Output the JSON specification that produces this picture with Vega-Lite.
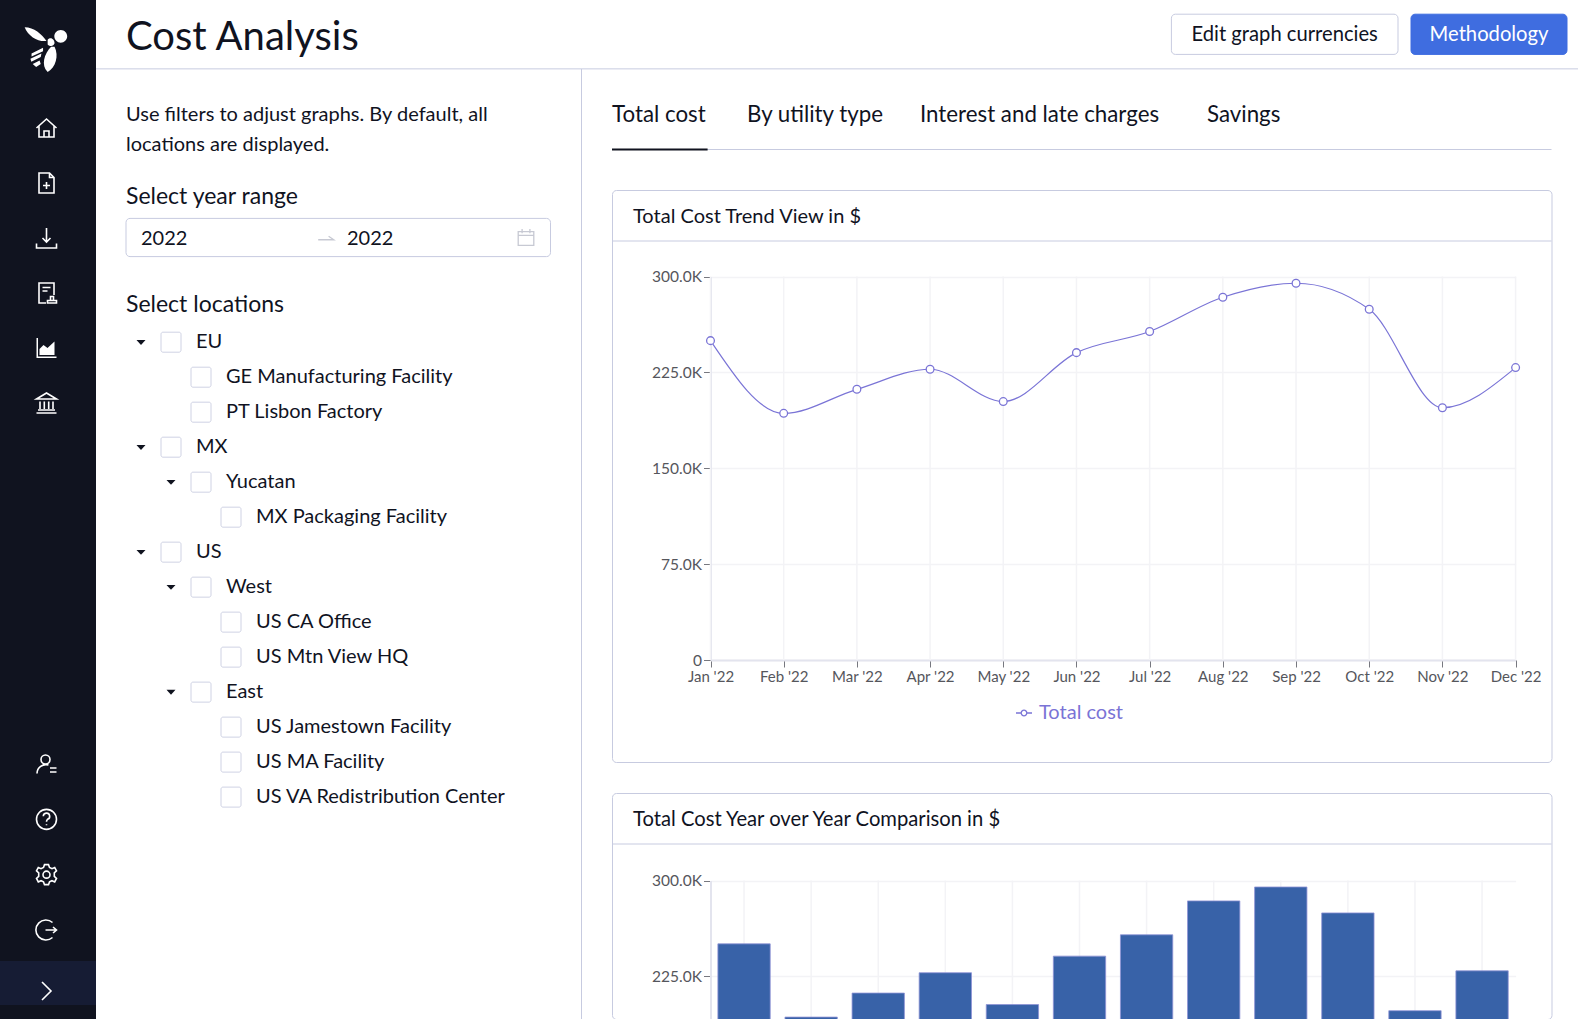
{
  "$schema": "https://vega.github.io/schema/vega-lite/v6.json",
  "padding": 0,
  "background": "white",
  "config": {
    "view": {"stroke": null},
    "font": "Lato",
    "text": {"font": "Lato", "color": "#10131f", "baseline": "middle", "align": "left"},
    "axis": {
      "labelFont": "Lato",
      "labelFontSize": 15,
      "labelColor": "#55565c",
      "tickColor": "#77787f",
      "tickSize": 7,
      "title": null,
      "gridColor": "#f3f3f6",
      "gridWidth": 1.5,
      "domainColor": "#e3e4ee",
      "domainWidth": 2
    }
  },
  "spacing": 0,
  "bounds": "flush",
  "resolve": {"scale": {"shape": "independent", "color": "independent", "fill": "independent", "stroke": "independent", "size": "independent"}},
  "hconcat": [
    {
      "width": 96,
      "height": 1019,
      "view": {"fill": "#10131f"},
      "layer": [
        {
          "data": {"values": [{"from": 10.5, "to": 11.5}]},
          "mark": {"type": "rect", "color": "#161c34"},
          "encoding": {
            "y": {"field": "from", "type": "quantitative", "axis": null, "scale": {"domain": [0, 1, 6, 7, 10, 10.5, 11, 11.5], "range": [49, 128, 403, 764, 930, 961, 991, 1019]}},
            "y2": {"field": "to"}
          }
        },
        {
          "data": {"values": [
            {"icon": "home", "order": 1},
            {"icon": "new", "order": 2},
            {"icon": "download", "order": 3},
            {"icon": "report", "order": 4},
            {"icon": "bank", "order": 6},
            {"icon": "user", "order": 7},
            {"icon": "help", "order": 8},
            {"icon": "gear", "order": 9},
            {"icon": "logout", "order": 10},
            {"icon": "expand", "order": 11}
          ]},
          "mark": {"type": "point", "filled": false, "stroke": "white", "strokeWidth": 1.6, "size": 400, "opacity": 1},
          "encoding": {
            "x": {"datum": 0, "axis": null, "scale": {"domain": [-1, 1], "range": [0, 93]}},
            "y": {"field": "order", "type": "quantitative", "axis": null},
            "shape": {
              "field": "icon",
              "legend": null,
              "scale": {
                "domain": ["home", "new", "download", "report", "bank", "user", "help", "gear", "logout", "expand"],
                "range": [
                  "M-1 0 L0 -0.9 L1 0 M-0.75 -0.2 V0.9 H0.75 V-0.2 M-0.25 0.9 V0.3 H0.25 V0.9",
                  "M-0.75 -1 H0.3 L0.75 -0.55 V1 H-0.75 Z M0.3 -1 V-0.55 H0.75 M-0.35 0.25 H0.35 M0 -0.1 V0.6",
                  "M0 -1 V0.4 M-0.4 0 L0 0.4 L0.4 0 M-1 0.55 V1 H1 V0.55",
                  "M0.75 0.2 V-1 H-0.75 V1 H-0.05 M-0.4 -0.55 H0.4 M-0.4 -0.2 H0.1 M0.1 0.75 H1 V1 H0.1 Z M0.4 0.75 V0.35 H0.7 V0.75",
                  "M-1 -0.4 L0 -1 L1 -0.4 Z M-0.65 -0.15 V0.6 M-0.22 -0.15 V0.6 M0.22 -0.15 V0.6 M0.65 -0.15 V0.6 M-0.85 0.7 H0.85 M-1 1 H1",
                  "M0.35 -0.45 A0.45 0.45 0 1 1 -0.55 -0.45 A0.45 0.45 0 1 1 0.35 -0.45 M-0.95 0.95 A0.9 0.9 0 0 1 0.2 0.1 M0.35 0.4 H1 M0.35 0.8 H1",
                  "M1 0 A1 1 0 1 1 -1 0 A1 1 0 1 1 1 0 M-0.32 -0.3 A0.32 0.32 0 1 1 0.1 0 Q0 0.1 0 0.25 M0 0.5 V0.6",
                  "M-0.2 -1 L0.2 -1 L0.3 -0.72 L0.55 -0.6 L0.82 -0.72 L1 -0.38 L0.78 -0.18 L0.78 0.18 L1 0.38 L0.82 0.72 L0.55 0.6 L0.3 0.72 L0.2 1 L-0.2 1 L-0.3 0.72 L-0.55 0.6 L-0.82 0.72 L-1 0.38 L-0.78 0.18 L-0.78 -0.18 L-1 -0.38 L-0.82 -0.72 L-0.55 -0.6 L-0.3 -0.72 Z M0.35 0 A0.35 0.35 0 1 1 -0.35 0 A0.35 0.35 0 1 1 0.35 0",
                  "M0.6 -0.75 A1 1 0 1 0 0.6 0.75 M-0.1 0 H1 M0.65 -0.3 L1 0 L0.65 0.3",
                  "M-0.45 -0.9 L0.45 0 L-0.45 0.9"
                ]
              }
            }
          }
        },
        {
          "data": {"values": [{"icon": "logo", "order": 0}]},
          "mark": {
            "type": "point",
            "filled": true,
            "color": "white",
            "opacity": 1,
            "size": 2116,
            "shape": "M-0.95 -0.95 C-0.55 -0.95 -0.2 -0.65 0 -0.35 C-0.35 -0.3 -0.8 -0.55 -0.95 -0.95 Z M0.9 -0.55 A0.28 0.28 0 1 1 0.34 -0.55 A0.28 0.28 0 1 1 0.9 -0.55 Z M0.05 -0.4 C0.2 -0.55 0.35 -0.4 0.35 -0.25 C0.3 -0.1 0.15 -0.1 0.05 -0.2 Z M0.35 -0.1 C0.55 0.3 0.4 0.8 0.05 1 C-0.25 0.7 -0.1 0.2 0.2 -0.1 Z M-0.65 0.2 L-0.15 -0.05 L-0.15 0.1 L-0.65 0.33 Z M-0.7 0.42 L-0.22 0.2 L-0.25 0.35 L-0.66 0.55 Z M-0.6 0.65 L-0.3 0.5 L-0.25 0.65 L-0.45 0.78 Z"
          },
          "encoding": {
            "x": {"datum": 0, "axis": null, "scale": {"domain": [-1, 1], "range": [0, 93]}},
            "y": {"field": "order", "type": "quantitative", "axis": null}
          }
        },
        {
          "data": {"values": [{"icon": "charts", "order": 5}]},
          "mark": {
            "type": "point",
            "filled": true,
            "color": "white",
            "opacity": 1,
            "size": 400,
            "shape": "M-1 -1 H-0.85 V0.85 H1 V1 H-1 Z M-0.7 0.7 V0.1 L-0.3 -0.3 L0.1 0 L0.8 -0.65 V0.7 Z"
          },
          "encoding": {
            "x": {"datum": 0, "axis": null, "scale": {"domain": [-1, 1], "range": [0, 93]}},
            "y": {"field": "order", "type": "quantitative", "axis": null}
          }
        }
      ]
    },
    {
      "spacing": 0,
      "bounds": "flush",
      "resolve": {"scale": {"shape": "independent", "color": "independent", "fill": "independent", "stroke": "independent", "size": "independent"}},
      "vconcat": [
        {
          "width": 1482,
          "height": 69,
          "resolve": {"scale": {"x": "independent"}},
          "layer": [
            {
              "data": {"values": [{"title": "Cost Analysis"}]},
              "mark": {"type": "text", "fontSize": 40, "dy": 4},
              "encoding": {
                "x": {"datum": 0, "axis": null, "scale": {"domain": [0, 1], "range": [30, 31]}},
                "y": {"datum": 0.5, "axis": null, "scale": {"domain": [0, 1], "range": [14.2, 54.4]}},
                "text": {"field": "title"}
              }
            },
            {
              "data": {"values": [{"line": 1.36}]},
              "mark": {"type": "rule", "color": "#c7cbe0", "strokeWidth": 1},
              "encoding": {"y": {"field": "line", "type": "quantitative", "axis": null}}
            },
            {
              "data": {"values": [
                {"label": "Edit graph currencies", "start": 0, "end": 1, "mid": 0.5, "top": 0, "bottom": 1},
                {"label": "Methodology", "start": 2, "end": 3, "mid": 2.5, "top": 0, "bottom": 1}
              ]},
              "encoding": {
                "x": {"field": "start", "type": "quantitative", "axis": null, "scale": {"domain": [0, 1, 2, 3], "range": [1075.4, 1302, 1315, 1471]}}
              },
              "layer": [
                {
                  "mark": {"type": "rect", "cornerRadius": 4, "strokeWidth": 1},
                  "encoding": {
                    "x2": {"field": "end"},
                    "y": {"field": "top", "type": "quantitative", "axis": null},
                    "y2": {"field": "bottom"},
                    "fill": {"field": "label", "legend": null, "scale": {"domain": ["Edit graph currencies", "Methodology"], "range": ["#ffffff", "#3f6de0"]}},
                    "stroke": {"field": "label", "legend": null, "scale": {"domain": ["Edit graph currencies", "Methodology"], "range": ["#c7cbe0", "#3f6de0"]}}
                  }
                },
                {
                  "mark": {"type": "text", "align": "center", "fontSize": 20.2, "dy": 1},
                  "encoding": {
                    "x": {"field": "mid", "type": "quantitative", "axis": null},
                    "y": {"datum": 0.5, "axis": null},
                    "text": {"field": "label"},
                    "color": {"field": "label", "legend": null, "scale": {"domain": ["Edit graph currencies", "Methodology"], "range": ["#10131f", "#ffffff"]}}
                  }
                }
              ]
            }
          ]
        },
        {
          "spacing": 30,
          "bounds": "flush",
          "resolve": {"scale": {"shape": "independent", "color": "independent", "fill": "independent", "stroke": "independent", "size": "independent"}},
          "hconcat": [
            {
              "width": 485.5,
              "height": 950,
              "resolve": {"scale": {"x": "independent"}},
              "encoding": {
                "y": {"field": "line", "type": "quantitative", "axis": null, "scale": {"domain": [0, 1, 2, 2.6, 3, 3.4, 4, 5, 18], "range": [45.7, 76, 127.6, 149.4, 168.6, 187.6, 236, 273.2, 728.1]}}
              },
              "layer": [
                {
                  "data": {"values": [{"edge": 1}]},
                  "mark": {"type": "rule", "color": "#c7cbe0", "strokeWidth": 1},
                  "encoding": {
                    "x": {"field": "edge", "type": "quantitative", "axis": null, "scale": {"domain": [0, 1], "range": [0, 485.5]}},
                    "y": null
                  }
                },
                {
                  "data": {"values": [{"line": 2.6, "lineEnd": 3.4, "from": 0, "to": 1}]},
                  "mark": {"type": "rect", "fill": "white", "stroke": "#c7cbe0", "strokeWidth": 1, "cornerRadius": 4},
                  "encoding": {
                    "x": {"field": "from", "type": "quantitative", "axis": null, "scale": {"domain": [0, 1], "range": [30, 454.5]}},
                    "x2": {"field": "to"},
                    "y2": {"field": "lineEnd"}
                  }
                },
                {
                  "data": {"values": [
                    {"label": "2022", "part": 0, "line": 3},
                    {"label": "2022", "part": 1, "line": 3}
                  ]},
                  "mark": {"type": "text", "fontSize": 20, "dy": 1},
                  "encoding": {
                    "x": {"field": "part", "type": "quantitative", "axis": null, "scale": {"domain": [0, 1], "range": [45, 251]}},
                    "text": {"field": "label"}
                  }
                },
                {
                  "data": {"values": [
                    {"icon": "arrow", "part": 0, "line": 3},
                    {"icon": "calendar", "part": 1, "line": 3}
                  ]},
                  "mark": {"type": "point", "filled": false, "stroke": "#c7c9d3", "strokeWidth": 1.3, "size": 300, "opacity": 1},
                  "encoding": {
                    "x": {"field": "part", "type": "quantitative", "axis": null, "scale": {"domain": [0, 1], "range": [230, 430]}},
                    "shape": {
                      "field": "icon",
                      "legend": null,
                      "scale": {
                        "domain": ["arrow", "calendar"],
                        "range": [
                          "M-0.9 0.25 H0.9 L0.3 -0.15",
                          "M-0.9 -0.7 H0.9 V0.9 H-0.9 Z M-0.9 -0.25 H0.9 M-0.45 -1 V-0.5 M0.45 -1 V-0.5"
                        ]
                      }
                    }
                  }
                },
                {
                  "data": {"values": [
                    {"label": "Use filters to adjust graphs. By default, all", "line": 0, "size": "body"},
                    {"label": "locations are displayed.", "line": 1, "size": "body"},
                    {"label": "Select year range", "line": 2, "size": "heading"},
                    {"label": "Select locations", "line": 4, "size": "heading"}
                  ]},
                  "mark": {"type": "text"},
                  "encoding": {
                    "x": {"datum": 0, "axis": null, "scale": {"domain": [0, 1], "range": [30, 31]}},
                    "text": {"field": "label"},
                    "size": {"field": "size", "legend": null, "scale": {"domain": ["body", "heading"], "range": [20, 23]}}
                  }
                },
                {
                  "data": {"name": "tree", "values": [
                    {"name": "EU", "level": 0, "line": 5, "branch": true},
                    {"name": "GE Manufacturing Facility", "level": 1, "line": 6, "branch": false},
                    {"name": "PT Lisbon Factory", "level": 1, "line": 7, "branch": false},
                    {"name": "MX", "level": 0, "line": 8, "branch": true},
                    {"name": "Yucatan", "level": 1, "line": 9, "branch": true},
                    {"name": "MX Packaging Facility", "level": 2, "line": 10, "branch": false},
                    {"name": "US", "level": 0, "line": 11, "branch": true},
                    {"name": "West", "level": 1, "line": 12, "branch": true},
                    {"name": "US CA Office", "level": 2, "line": 13, "branch": false},
                    {"name": "US Mtn View HQ", "level": 2, "line": 14, "branch": false},
                    {"name": "East", "level": 1, "line": 15, "branch": true},
                    {"name": "US Jamestown Facility", "level": 2, "line": 16, "branch": false},
                    {"name": "US MA Facility", "level": 2, "line": 17, "branch": false},
                    {"name": "US VA Redistribution Center", "level": 2, "line": 18, "branch": false}
                  ]},
                  "encoding": {
                    "x": {"field": "level", "type": "quantitative", "axis": null, "scale": {"domain": [0, 2], "range": [100, 160]}}
                  },
                  "layer": [
                    {
                      "mark": {"type": "text", "fontSize": 20},
                      "encoding": {"text": {"field": "name"}}
                    },
                    {
                      "mark": {"type": "point", "filled": false, "stroke": "#cfd2e4", "strokeWidth": 1, "size": 400, "opacity": 1, "xOffset": -25, "shape": "M-0.8 -1 H0.8 A0.2 0.2 0 0 1 1 -0.8 V0.8 A0.2 0.2 0 0 1 0.8 1 H-0.8 A0.2 0.2 0 0 1 -1 0.8 V-0.8 A0.2 0.2 0 0 1 -0.8 -1 Z"}
                    },
                    {
                      "transform": [{"filter": "datum.branch"}],
                      "mark": {"type": "point", "filled": true, "color": "#10131f", "size": 81, "opacity": 1, "xOffset": -55, "shape": "M-1 -0.5 H1 L0 0.6 Z"}
                    }
                  ]
                }
              ]
            },
            {
              "spacing": 31,
              "bounds": "flush",
              "resolve": {"scale": {"shape": "independent", "color": "independent", "fill": "independent", "stroke": "independent", "size": "independent"}},
              "vconcat": [
                {
                  "width": 939.5,
                  "height": 90,
                  "layer": [
                    {
                      "data": {"values": [
                        {"tab": "Total cost", "order": 0, "row": 0},
                        {"tab": "By utility type", "order": 1, "row": 0},
                        {"tab": "Interest and late charges", "order": 2, "row": 0},
                        {"tab": "Savings", "order": 3, "row": 0}
                      ]},
                      "mark": {"type": "text", "fontSize": 22.3},
                      "encoding": {
                        "x": {"field": "order", "type": "quantitative", "axis": null, "scale": {"domain": [0, 0.5, 1, 2, 3, 4], "range": [0, 95.6, 135, 308, 595, 939.5]}},
                        "y": {"field": "row", "type": "quantitative", "axis": null, "scale": {"domain": [0, 1], "range": [46.2, 80.5]}},
                        "text": {"field": "tab"}
                      }
                    },
                    {
                      "data": {"values": [{"order": 0, "end": 4, "row": 1}]},
                      "mark": {"type": "rule", "color": "#c7cbe0", "strokeWidth": 1},
                      "encoding": {
                        "x": {"field": "order", "type": "quantitative"},
                        "x2": {"field": "end"},
                        "y": {"field": "row", "type": "quantitative"}
                      }
                    },
                    {
                      "data": {"values": [{"order": 0, "end": 0.5, "row": 1}]},
                      "mark": {"type": "rule", "color": "#10131f", "strokeWidth": 2},
                      "encoding": {
                        "x": {"field": "order", "type": "quantitative"},
                        "x2": {"field": "end"},
                        "y": {"field": "row", "type": "quantitative"}
                      }
                    }
                  ]
                },
                {
                  "width": 939.5,
                  "height": 572,
                  "view": {"fill": "white", "stroke": "#c7cbe0", "cornerRadius": 4},
                  "resolve": {"scale": {"x": "independent", "y": "independent"}},
                  "layer": [
                    {
                      "data": {"values": [{"title": "Total Cost Trend View in $"}]},
                      "mark": {"type": "text", "fontSize": 20, "dy": 1},
                      "encoding": {
                        "x": {"datum": 0, "axis": null, "scale": {"domain": [0, 1], "range": [21, 22]}},
                        "y": {"datum": 0, "axis": null, "scale": {"domain": [0, 1], "range": [26, 27]}},
                        "text": {"field": "title"}
                      }
                    },
                    {
                      "data": {"values": [{"line": 1}]},
                      "mark": {"type": "rule", "color": "#c7cbe0", "strokeWidth": 1},
                      "encoding": {"y": {"field": "line", "type": "quantitative", "axis": null, "scale": {"domain": [0, 1], "range": [0, 51]}}}
                    },
                    {
                      "data": {"values": [
                        {"month": "Jan '22", "cost": 249900, "series": "Total cost"},
                        {"month": "Feb '22", "cost": 193000, "series": "Total cost"},
                        {"month": "Mar '22", "cost": 211800, "series": "Total cost"},
                        {"month": "Apr '22", "cost": 227500, "series": "Total cost"},
                        {"month": "May '22", "cost": 202200, "series": "Total cost"},
                        {"month": "Jun '22", "cost": 240500, "series": "Total cost"},
                        {"month": "Jul '22", "cost": 257000, "series": "Total cost"},
                        {"month": "Aug '22", "cost": 283800, "series": "Total cost"},
                        {"month": "Sep '22", "cost": 294800, "series": "Total cost"},
                        {"month": "Oct '22", "cost": 274400, "series": "Total cost"},
                        {"month": "Nov '22", "cost": 197400, "series": "Total cost"},
                        {"month": "Dec '22", "cost": 228800, "series": "Total cost"}
                      ]},
                      "encoding": {
                        "x": {
                          "field": "month",
                          "type": "ordinal",
                          "sort": null,
                          "scale": {"type": "point", "padding": 0, "range": [98.5, 903.6]},
                          "axis": {"labelAngle": 0, "offset": -102, "labelPadding": 2, "grid": false}
                        },
                        "y": {
                          "field": "cost",
                          "type": "quantitative",
                          "scale": {"domain": [0, 300000], "range": [470, 86.6], "nice": false},
                          "axis": {
                            "offset": -98.5,
                            "values": [0, 75000, 150000, 225000, 300000],
                            "labelExpr": "datum.value === 0 ? '0' : format(datum.value / 1000, '.1f') + 'K'",
                            "labelFontSize": 15.5,
                            "labelPadding": 2,
                            "grid": true
                          }
                        }
                      },
                      "layer": [
                        {
                          "mark": {"type": "rule", "color": "#f3f3f6", "strokeWidth": 1.5},
                          "encoding": {
                            "y": {"datum": 0},
                            "y2": {"datum": 300000}
                          }
                        },
                        {
                          "mark": {"type": "line", "interpolate": "monotone", "strokeWidth": 1.2},
                          "encoding": {
                            "stroke": {
                              "field": "series",
                              "scale": {"domain": ["Total cost"], "range": ["#7a74d6"]},
                              "legend": {
                                "orient": "none",
                                "legendX": 402,
                                "legendY": 513,
                                "title": null,
                                "symbolType": "M-1 0 H-0.35 M0.35 0 H1 M0.35 0 A0.35 0.35 0 1 1 -0.35 0 A0.35 0.35 0 1 1 0.35 0",
                                "symbolSize": 256,
                                "symbolStrokeWidth": 1.3,
                                "labelFont": "Lato",
                                "labelFontSize": 20,
                                "labelColor": "#7a74d6",
                                "labelOffset": 5
                              }
                            }
                          }
                        },
                        {
                          "mark": {"type": "point", "fill": "white", "filled": false, "strokeWidth": 1.3, "size": 60, "opacity": 1},
                          "encoding": {
                            "stroke": {"field": "series", "scale": {"domain": ["Total cost"], "range": ["#7a74d6"]}}
                          }
                        }
                      ]
                    }
                  ]
                },
                {
                  "width": 939.5,
                  "height": 226,
                  "view": {"fill": "white", "stroke": "#c7cbe0", "cornerRadius": 4},
                  "resolve": {"scale": {"x": "independent", "y": "independent"}},
                  "layer": [
                    {
                      "data": {"values": [{"title": "Total Cost Year over Year Comparison in $"}]},
                      "mark": {"type": "text", "fontSize": 20.2, "dy": 1},
                      "encoding": {
                        "x": {"datum": 0, "axis": null, "scale": {"domain": [0, 1], "range": [21, 22]}},
                        "y": {"datum": 0, "axis": null, "scale": {"domain": [0, 1], "range": [26, 27]}},
                        "text": {"field": "title"}
                      }
                    },
                    {
                      "data": {"values": [{"line": 1}]},
                      "mark": {"type": "rule", "color": "#c7cbe0", "strokeWidth": 1},
                      "encoding": {"y": {"field": "line", "type": "quantitative", "axis": null, "scale": {"domain": [0, 1], "range": [0, 51]}}}
                    },
                    {
                      "data": {"values": [
                        {"month": "Jan '22", "cost": 250500},
                        {"month": "Feb '22", "cost": 193200},
                        {"month": "Mar '22", "cost": 212000},
                        {"month": "Apr '22", "cost": 227900},
                        {"month": "May '22", "cost": 203000},
                        {"month": "Jun '22", "cost": 240900},
                        {"month": "Jul '22", "cost": 257600},
                        {"month": "Aug '22", "cost": 284100},
                        {"month": "Sep '22", "cost": 295000},
                        {"month": "Oct '22", "cost": 274700},
                        {"month": "Nov '22", "cost": 198200},
                        {"month": "Dec '22", "cost": 229400}
                      ]},
                      "encoding": {
                        "x": {
                          "field": "month",
                          "type": "ordinal",
                          "sort": null,
                          "scale": {"type": "band", "paddingInner": 0.22, "paddingOuter": 0.11, "range": [98.5, 903.6]},
                          "axis": {"labels": false, "ticks": false, "domain": false, "grid": false}
                        },
                        "y": {
                          "field": "cost",
                          "type": "quantitative",
                          "scale": {"domain": [191700, 300000], "range": [226, 87.6], "nice": false, "zero": false},
                          "axis": {
                            "offset": -98.5,
                            "values": [225000, 300000],
                            "labelExpr": "format(datum.value / 1000, '.1f') + 'K'",
                            "labelFontSize": 15.5,
                            "labelPadding": 2,
                            "grid": true
                          }
                        }
                      },
                      "layer": [
                        {
                          "mark": {"type": "rule", "color": "#f3f3f6", "strokeWidth": 1.5},
                          "encoding": {
                            "y": {"datum": 191700},
                            "y2": {"datum": 300000}
                          }
                        },
                        {
                          "mark": {"type": "bar", "color": "#3862a8", "stroke": "#8f93d6", "strokeWidth": 0.8, "clip": true}
                        }
                      ]
                    }
                  ]
                }
              ]
            }
          ]
        }
      ]
    }
  ]
}
